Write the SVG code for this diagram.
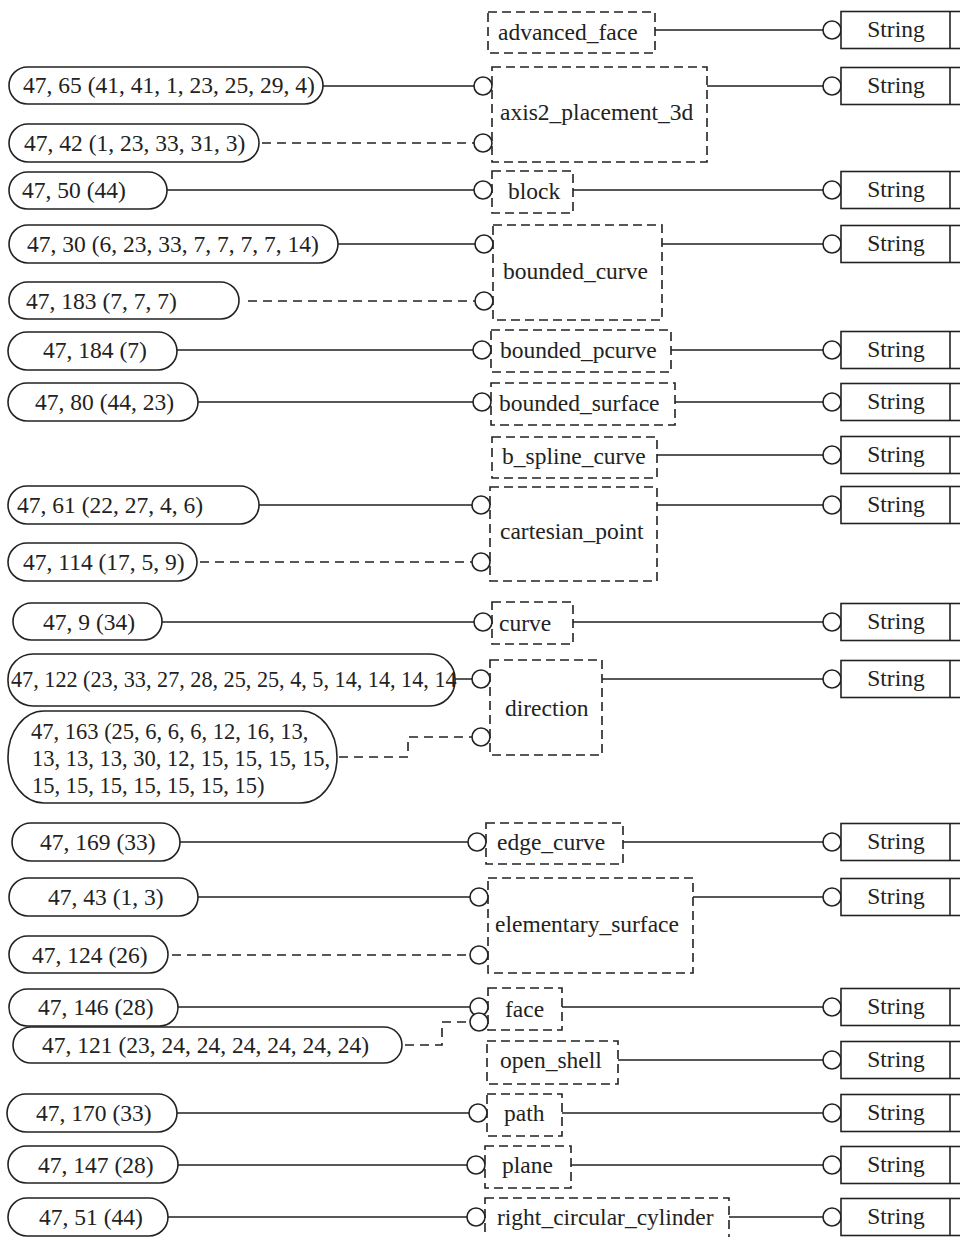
<svg xmlns="http://www.w3.org/2000/svg" width="960" height="1237" viewBox="0 0 960 1237">
<style>
text{font-family:"Liberation Serif","Times New Roman",serif;font-size:23.5px;fill:#222}
.pill{fill:#fff;stroke:#222;stroke-width:1.6}
.ent{fill:none;stroke:#222;stroke-width:1.6;stroke-dasharray:9 5}
.str{fill:#fff;stroke:#222;stroke-width:1.6}
.ln{fill:none;stroke:#222;stroke-width:1.6}
.dl{fill:none;stroke:#222;stroke-width:1.6;stroke-dasharray:9 6}
.c{fill:#fff;stroke:#222;stroke-width:1.6}
.st{text-anchor:middle}
</style>
<rect width="960" height="1237" fill="#fff"/>
<g id="connectors">
<path class="ln" d="M323 86H474M167 190H474M338 244H475M177 350H473M198 402H473M259 505H472M162 622H474M455 679H472M180 842H468M198 897H470M178 1007H470M177 1113H469M178 1165H467M168 1217H467"/>
<path class="dl" d="M262 143H474M248 301H475M200 562H472M172 955H470"/>
<path class="dl" d="M339 757H408V737H472"/>
<path class="dl" d="M405 1045H442V1022H470"/>
<path class="ln" d="M655 30H823M707 86H823M573 190H823M662 244H823M671 350H823M675 402H823M657 455H823M657 505H823M573 622H823M602 679H823M623 842H823M693 897H823M562 1007H823M618 1060H823M562 1113H823M571 1165H823M729 1217H823"/>
</g>
<g id="rights">
<g id="s1"><circle class="c" cx="832" cy="30" r="9"/><rect class="str" x="841" y="11.5" width="130" height="37"/><path class="ln" d="M950 11.5V48.5"/><text class="st" x="896" y="37">String</text></g>
<g id="s2"><circle class="c" cx="832" cy="86" r="9"/><rect class="str" x="841" y="67.5" width="130" height="37"/><path class="ln" d="M950 67.5V104.5"/><text class="st" x="896" y="93">String</text></g>
<g id="s3"><circle class="c" cx="832" cy="190" r="9"/><rect class="str" x="841" y="171.5" width="130" height="37"/><path class="ln" d="M950 171.5V208.5"/><text class="st" x="896" y="197">String</text></g>
<g id="s4"><circle class="c" cx="832" cy="244" r="9"/><rect class="str" x="841" y="225.5" width="130" height="37"/><path class="ln" d="M950 225.5V262.5"/><text class="st" x="896" y="251">String</text></g>
<g id="s5"><circle class="c" cx="832" cy="350" r="9"/><rect class="str" x="841" y="331.5" width="130" height="37"/><path class="ln" d="M950 331.5V368.5"/><text class="st" x="896" y="357">String</text></g>
<g id="s6"><circle class="c" cx="832" cy="402" r="9"/><rect class="str" x="841" y="383.5" width="130" height="37"/><path class="ln" d="M950 383.5V420.5"/><text class="st" x="896" y="409">String</text></g>
<g id="s7"><circle class="c" cx="832" cy="455" r="9"/><rect class="str" x="841" y="436.5" width="130" height="37"/><path class="ln" d="M950 436.5V473.5"/><text class="st" x="896" y="462">String</text></g>
<g id="s8"><circle class="c" cx="832" cy="505" r="9"/><rect class="str" x="841" y="486.5" width="130" height="37"/><path class="ln" d="M950 486.5V523.5"/><text class="st" x="896" y="512">String</text></g>
<g id="s9"><circle class="c" cx="832" cy="622" r="9"/><rect class="str" x="841" y="603.5" width="130" height="37"/><path class="ln" d="M950 603.5V640.5"/><text class="st" x="896" y="629">String</text></g>
<g id="s10"><circle class="c" cx="832" cy="679" r="9"/><rect class="str" x="841" y="660.5" width="130" height="37"/><path class="ln" d="M950 660.5V697.5"/><text class="st" x="896" y="686">String</text></g>
<g id="s11"><circle class="c" cx="832" cy="842" r="9"/><rect class="str" x="841" y="823.5" width="130" height="37"/><path class="ln" d="M950 823.5V860.5"/><text class="st" x="896" y="849">String</text></g>
<g id="s12"><circle class="c" cx="832" cy="897" r="9"/><rect class="str" x="841" y="878.5" width="130" height="37"/><path class="ln" d="M950 878.5V915.5"/><text class="st" x="896" y="904">String</text></g>
<g id="s13"><circle class="c" cx="832" cy="1007" r="9"/><rect class="str" x="841" y="988.5" width="130" height="37"/><path class="ln" d="M950 988.5V1025.5"/><text class="st" x="896" y="1014">String</text></g>
<g id="s14"><circle class="c" cx="832" cy="1060" r="9"/><rect class="str" x="841" y="1041.5" width="130" height="37"/><path class="ln" d="M950 1041.5V1078.5"/><text class="st" x="896" y="1067">String</text></g>
<g id="s15"><circle class="c" cx="832" cy="1113" r="9"/><rect class="str" x="841" y="1094.5" width="130" height="37"/><path class="ln" d="M950 1094.5V1131.5"/><text class="st" x="896" y="1120">String</text></g>
<g id="s16"><circle class="c" cx="832" cy="1165" r="9"/><rect class="str" x="841" y="1146.5" width="130" height="37"/><path class="ln" d="M950 1146.5V1183.5"/><text class="st" x="896" y="1172">String</text></g>
<g id="s17"><circle class="c" cx="832" cy="1217" r="9"/><rect class="str" x="841" y="1198.5" width="130" height="37"/><path class="ln" d="M950 1198.5V1235.5"/><text class="st" x="896" y="1224">String</text></g>
</g>
<g id="entities">
<g id="advanced_face"><rect class="ent" x="488" y="12" width="167" height="41"/><text x="498" y="40">advanced_face</text></g>
<g id="axis2_placement_3d"><rect class="ent" x="492" y="67" width="215" height="95"/><circle class="c" cx="483" cy="86" r="9"/><circle class="c" cx="483" cy="143" r="9"/><text x="500" y="120">axis2_placement_3d</text></g>
<g id="block"><rect class="ent" x="492" y="171" width="81" height="42"/><circle class="c" cx="483" cy="190" r="9"/><text x="508" y="199">block</text></g>
<g id="bounded_curve"><rect class="ent" x="493" y="225" width="169" height="95"/><circle class="c" cx="484" cy="244" r="9"/><circle class="c" cx="484" cy="301" r="9"/><text x="503" y="279">bounded_curve</text></g>
<g id="bounded_pcurve"><rect class="ent" x="491" y="330" width="180" height="42"/><circle class="c" cx="482" cy="350" r="9"/><text x="500" y="358">bounded_pcurve</text></g>
<g id="bounded_surface"><rect class="ent" x="491" y="383" width="184" height="42"/><circle class="c" cx="482" cy="402" r="9"/><text x="499" y="411">bounded_surface</text></g>
<g id="b_spline_curve"><rect class="ent" x="492" y="437" width="165" height="41"/><text x="502" y="464">b_spline_curve</text></g>
<g id="cartesian_point"><rect class="ent" x="490" y="487" width="167" height="94"/><circle class="c" cx="481" cy="505" r="9"/><circle class="c" cx="481" cy="562" r="9"/><text x="500" y="539">cartesian_point</text></g>
<g id="curve"><rect class="ent" x="492" y="602" width="81" height="42"/><circle class="c" cx="483" cy="622" r="9"/><text x="499" y="631">curve</text></g>
<g id="direction"><rect class="ent" x="490" y="660" width="112" height="95"/><circle class="c" cx="481" cy="679" r="9"/><circle class="c" cx="481" cy="737" r="9"/><text x="505" y="716">direction</text></g>
<g id="edge_curve"><rect class="ent" x="486" y="823" width="137" height="41"/><circle class="c" cx="477" cy="842" r="9"/><text x="497" y="850">edge_curve</text></g>
<g id="elementary_surface"><rect class="ent" x="488" y="878" width="205" height="95"/><circle class="c" cx="479" cy="897" r="9"/><circle class="c" cx="479" cy="955" r="9"/><text x="495" y="932">elementary_surface</text></g>
<g id="face"><rect class="ent" x="488" y="988" width="74" height="42"/><circle class="c" cx="479" cy="1007" r="9"/><circle class="c" cx="479" cy="1022" r="9"/><text x="505" y="1017">face</text></g>
<g id="open_shell"><rect class="ent" x="487" y="1041" width="131" height="43"/><text x="500" y="1068">open_shell</text></g>
<g id="path"><rect class="ent" x="487" y="1094" width="75" height="42"/><circle class="c" cx="478" cy="1113" r="9"/><text x="504" y="1121">path</text></g>
<g id="plane"><rect class="ent" x="485" y="1146" width="86" height="42"/><circle class="c" cx="476" cy="1165" r="9"/><text x="502" y="1173">plane</text></g>
<g id="right_circular_cylinder"><rect class="ent" x="485" y="1198" width="244" height="60"/><circle class="c" cx="476" cy="1217" r="9"/><text x="497" y="1225">right_circular_cylinder</text></g>
</g>
<g id="instances">
<g id="i65"><rect class="pill" x="9" y="67" width="314" height="37" rx="18.5"/><text x="23" y="93">47, 65 (41, 41, 1, 23, 25, 29, 4)</text></g>
<g id="i42"><rect class="pill" x="9" y="124" width="250" height="38" rx="19"/><text x="24" y="151">47, 42 (1, 23, 33, 31, 3)</text></g>
<g id="i50"><rect class="pill" x="9" y="172" width="158" height="37" rx="18.5"/><text x="22" y="198">47, 50 (44)</text></g>
<g id="i30"><rect class="pill" x="9" y="225" width="329" height="38" rx="19"/><text x="27" y="252">47, 30 (6, 23, 33, 7, 7, 7, 7, 14)</text></g>
<g id="i183"><rect class="pill" x="9" y="282" width="230" height="37" rx="18.5"/><text x="26" y="309">47, 183 (7, 7, 7)</text></g>
<g id="i184"><rect class="pill" x="8" y="332" width="169" height="38" rx="19"/><text x="43" y="358">47, 184 (7)</text></g>
<g id="i80"><rect class="pill" x="8" y="383" width="190" height="38" rx="19"/><text x="35" y="410">47, 80 (44, 23)</text></g>
<g id="i61"><rect class="pill" x="8" y="486" width="251" height="38" rx="19"/><text x="17" y="513">47, 61 (22, 27, 4, 6)</text></g>
<g id="i114"><rect class="pill" x="8" y="543" width="189" height="38" rx="19"/><text x="23" y="570">47, 114 (17, 5, 9)</text></g>
<g id="i9"><rect class="pill" x="13" y="603" width="149" height="37" rx="18.5"/><text x="43" y="630">47, 9 (34)</text></g>
<g id="i122"><rect class="pill" x="8" y="654" width="447" height="52" rx="25"/><text x="11" y="687" style="font-size:22.2px">47, 122 (23, 33, 27, 28, 25, 25, 4, 5, 14, 14, 14, 14</text></g>
<g id="i163"><rect class="pill" x="8" y="711" width="329" height="92" rx="36" ry="46"/><text style="font-size:22.5px"><tspan x="31" y="739">47, 163 (25, 6, 6, 6, 12, 16, 13,</tspan><tspan x="32" y="766">13, 13, 13, 30, 12, 15, 15, 15, 15,</tspan><tspan x="32" y="793">15, 15, 15, 15, 15, 15, 15)</tspan></text></g>
<g id="i169"><rect class="pill" x="12" y="823" width="168" height="38" rx="19"/><text x="40" y="850">47, 169 (33)</text></g>
<g id="i43"><rect class="pill" x="9" y="878" width="189" height="38" rx="19"/><text x="48" y="905">47, 43 (1, 3)</text></g>
<g id="i124"><rect class="pill" x="9" y="936" width="159" height="37" rx="18.5"/><text x="32" y="963">47, 124 (26)</text></g>
<g id="i146"><rect class="pill" x="9" y="989" width="169" height="37" rx="18.5"/><text x="38" y="1015">47, 146 (28)</text></g>
<g id="i121"><rect class="pill" x="13" y="1027" width="389" height="36" rx="18"/><text x="42" y="1053">47, 121 (23, 24, 24, 24, 24, 24, 24)</text></g>
<g id="i170"><rect class="pill" x="7" y="1094" width="170" height="38" rx="19"/><text x="36" y="1121">47, 170 (33)</text></g>
<g id="i147"><rect class="pill" x="8" y="1146" width="170" height="37" rx="18.5"/><text x="38" y="1173">47, 147 (28)</text></g>
<g id="i51"><rect class="pill" x="8" y="1198" width="160" height="38" rx="19"/><text x="39" y="1225">47, 51 (44)</text></g>
</g>
</svg>
